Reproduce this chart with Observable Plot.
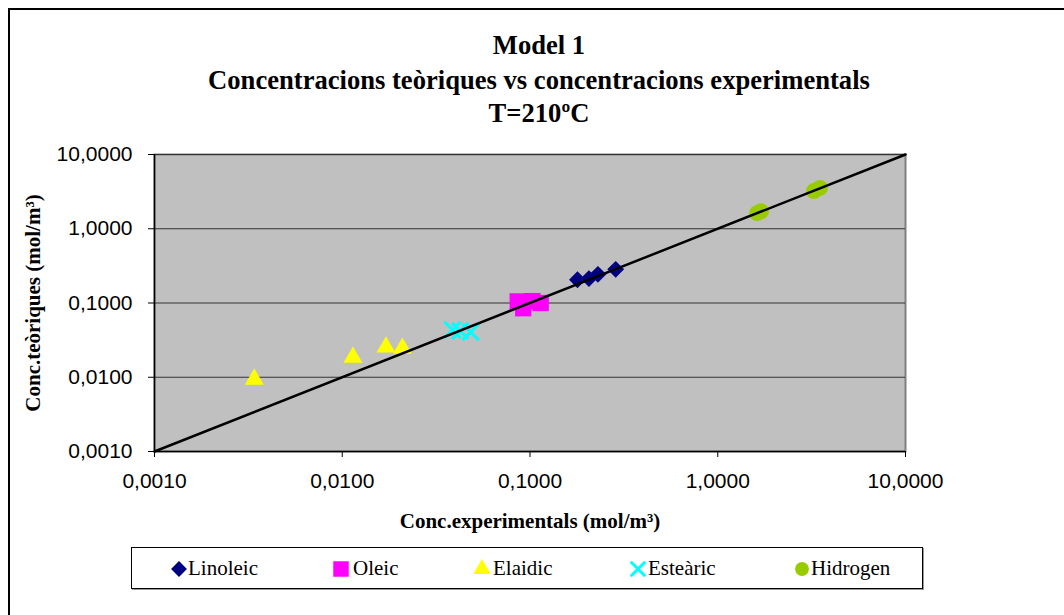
<!DOCTYPE html>
<html><head><meta charset="utf-8">
<script src="https://cdn.jsdelivr.net/npm/d3@7"></script>
<script src="https://cdn.jsdelivr.net/npm/@observablehq/plot@0.6"></script>
<style>
html,body{margin:0;padding:0;background:#fff;overflow:hidden;}
#wrap{position:relative;width:1064px;height:615px;overflow:hidden;background:#fff;}
#outer{position:absolute;left:8px;top:8px;width:1200px;height:800px;border-top:2px solid #000;border-left:2px solid #000;box-sizing:border-box;}
.t{position:absolute;left:0;width:1078px;text-align:center;font-family:'Liberation Serif','Times New Roman',serif;font-weight:bold;font-size:26.6px;line-height:34px;color:#000;white-space:nowrap;}
#chart{position:absolute;left:0;top:130px;}
#legend{position:absolute;left:131px;top:547px;width:792px;height:42px;border:1px solid #000;box-sizing:border-box;box-shadow:1px 1px 0 #999;background:#fff;}
.li{position:absolute;top:0;height:40px;line-height:40px;font-family:'Liberation Serif','Times New Roman',serif;font-size:21px;color:#000;white-space:nowrap;}
.li svg{position:absolute;top:11px;}
</style></head>
<body>
<div id="wrap">
  <div id="outer"></div>
  <div class="t" style="top:28px">Model 1</div>
  <div class="t" style="top:63px">Concentracions teòriques vs concentracions experimentals</div>
  <div class="t" style="top:96px">T=210ºC</div>
  <div id="chart"></div>
  <div id="legend"></div>
</div>
<script>
// ---- data ----
const seriesNames = ["Linoleic", "Oleic", "Elaidic", "Esteàric", "Hidrogen"];
const linoleicX = [0.179, 0.206, 0.230, 0.286];
const linoleicY = [0.206, 0.213, 0.243, 0.284];
const oleicX = [0.086, 0.092, 0.103, 0.114];
const oleicY = [0.105, 0.085, 0.106, 0.100];
const elaidicX = [0.0034, 0.0114, 0.0171, 0.0209];
const elaidicY = [0.0094, 0.0185, 0.0255, 0.0245];
const estearicX = [0.0387, 0.0425, 0.0483];
const estearicY = [0.0436, 0.0420, 0.0406];
const hidrogenX = [1.62, 1.70, 3.25, 3.50];
const hidrogenY = [1.62, 1.72, 3.22, 3.55];
const diagX = [0.001, 10];
const diagY = [0.001, 10];
const xTicks = [0.001, 0.01, 0.1, 1, 10];
const yTicks = [0.001, 0.01, 0.1, 1, 10];
const xLabel = "Conc.experimentals (mol/m³)";
const yLabel = "Conc.teòriques (mol/m³)";

const fmt = v => d3.format(".4f")(v).replace(".", ",");
const pts = (xs, ys) => xs.map((x, i) => ({x, y: ys[i]}));
const serif = "'Liberation Serif','Times New Roman',serif";

const styleDefs = [
  {name: seriesNames[0], data: pts(linoleicX, linoleicY), symbol: "diamond2", fill: "#000080", r: 7.6},
  {name: seriesNames[1], data: pts(oleicX, oleicY), symbol: "square", fill: "#FF00FF", r: 9.2},
  {name: seriesNames[2], data: pts(elaidicX, elaidicY), symbol: "triangle", fill: "#FFFF00", r: 7},
  {name: seriesNames[3], data: pts(estearicX, estearicY), symbol: "times", stroke: "#00FFFF", r: 7.4},
  {name: seriesNames[4], data: pts(hidrogenX, hidrogenY), symbol: "circle", fill: "#99CC00", r: 8}
];

const dotMarks = styleDefs.map(s => s.stroke
  ? Plot.dot(s.data, {x: "x", y: "y", symbol: () => s.symbol, r: s.r, stroke: s.stroke, strokeWidth: 3})
  : Plot.dot(s.data, {x: "x", y: "y", symbol: () => s.symbol, r: s.r, fill: s.fill, stroke: "none"}));

const chart = Plot.plot({
  width: 1064, height: 410,
  marginLeft: 154, marginRight: 159, marginTop: 24, marginBottom: 89,
  style: {fontFamily: "'Liberation Sans', Arial, sans-serif", fontSize: "21px", color: "#000", background: "transparent", overflow: "visible"},
  x: {type: "log", domain: [xTicks[0], xTicks[xTicks.length - 1]]},
  y: {type: "log", domain: [yTicks[0], yTicks[yTicks.length - 1]]},
  symbol: {type: "identity"},
  marks: [
    Plot.frame({fill: "#c0c0c0", stroke: "#808080", strokeWidth: 2}),
    Plot.ruleY(yTicks.slice(1), {stroke: "#333", strokeWidth: 1}),
    Plot.axisX({ticks: xTicks, tickFormat: fmt, tickSize: 6, tickPadding: 16, label: null, stroke: "#000"}),
    Plot.axisY({ticks: yTicks, tickFormat: fmt, tickSize: 6, tickPadding: 16, label: null, stroke: "#000"}),
    Plot.ruleX([xTicks[0]], {stroke: "#000", strokeWidth: 1.5}),
    Plot.ruleY([yTicks[0]], {stroke: "#000", strokeWidth: 1.5}),
    ...dotMarks,
    Plot.line(pts(diagX, diagY), {x: "x", y: "y", stroke: "#000", strokeWidth: 2.5}),
    Plot.text([xLabel], {frameAnchor: "bottom", dy: 76, fontFamily: serif, fontWeight: "bold", fontSize: 21, fill: "#000"}),
    Plot.text([yLabel], {frameAnchor: "left", textAnchor: "middle", dx: -121, rotate: -90, fontFamily: serif, fontWeight: "bold", fontSize: 21, fill: "#000"})
  ]
});
document.getElementById("chart").appendChild(chart);

// ---- legend ----
const legend = document.getElementById("legend");
const markerLeft = [38, 200, 341, 497, 661];
const textLeft = [56, 221, 361, 516, 679];
const symPaths = {
  diamond2: d3.symbol(d3.symbolDiamond2, 160)(),
  square: d3.symbol(d3.symbolSquare, 240)(),
  triangle: d3.symbol(d3.symbolTriangle, 130)(),
  times: d3.symbol(d3.symbolTimes, 140)(),
  circle: d3.symbol(d3.symbolCircle, 150)()
};
styleDefs.forEach((s, i) => {
  const item = document.createElement("div");
  item.className = "li";
  item.style.left = markerLeft[i] + "px";
  const p = symPaths[s.symbol];
  const paint = s.stroke ? `fill="none" stroke="${s.stroke}" stroke-width="3"` : `fill="${s.fill}"`;
  item.innerHTML = `<svg width="20" height="20" viewBox="-10 -10 20 20" style="left:-1px"><path d="${p}" ${paint}/></svg>` +
    `<span style="position:absolute;left:${textLeft[i] - markerLeft[i]}px">${s.name}</span>`;
  legend.appendChild(item);
});
</script>
</body></html>
